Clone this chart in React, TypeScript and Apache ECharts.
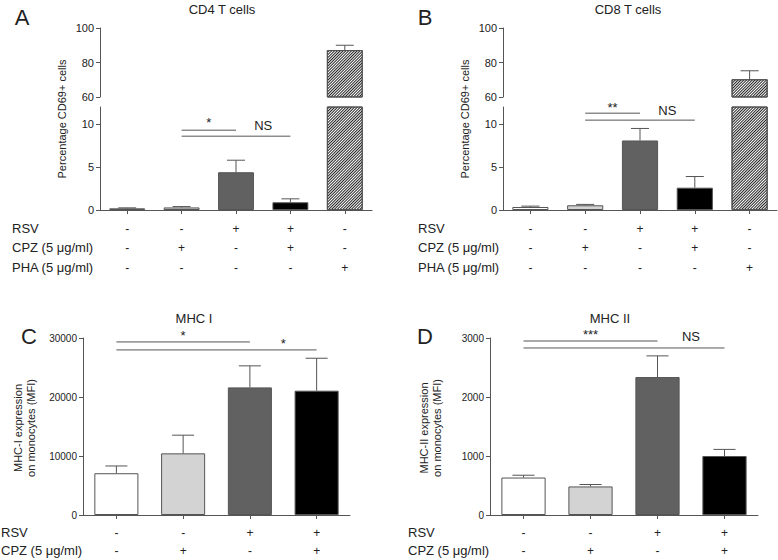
import React, { useEffect, useRef } from 'react';
import * as echarts from 'echarts';

// ---------- data ----------
const catsAB = ['1', '2', '3', '4', '5'];
const rsvAB = ['-', '-', '+', '+', '-'];
const cpzAB = ['-', '+', '-', '+', '-'];
const phaAB = ['-', '-', '-', '-', '+'];
const cd4Mean = [0.2, 0.3, 4.4, 0.9, 87.2];
const cd4Upper = [0.25, 0.4, 5.8, 1.3, 90];
const cd8Mean = [0.35, 0.55, 8.1, 2.6, 70.3];
const cd8Upper = [0.45, 0.65, 9.5, 3.9, 75.2];

const catsCD = ['1', '2', '3', '4'];
const rsvCD = ['-', '-', '+', '+'];
const cpzCD = ['-', '+', '-', '+'];
const mhc1Mean = [7080, 10450, 21630, 21070];
const mhc1Upper = [8310, 13530, 25280, 26570];
const mhc2Mean = [635, 484, 2338, 1000];
const mhc2Upper = [674, 517, 2697, 1112];

const rowNamesAB = ['RSV', 'CPZ (5 \u03bcg/ml)', 'PHA (5 \u03bcg/ml)'];
const rowNamesCD = ['RSV', 'CPZ (5 \u03bcg/ml)'];

// significance annotations: line from/to category, at level; label between textFrom/textTo
const sigA = [
  { from: 1, to: 2, level: 9.3, text: '*', textFrom: 1, textTo: 2, textLevel: 10.2 },
  { from: 1, to: 3, level: 8.6, text: 'NS', textFrom: 2, textTo: 3, textLevel: 9.8 },
];
const sigB = [
  { from: 1, to: 2, level: 11.28, text: '**', textFrom: 1, textTo: 2, textLevel: 11.9 },
  { from: 1, to: 3, level: 10.47, text: 'NS', textFrom: 2, textTo: 3, textLevel: 11.6 },
];
const sigC = [
  { from: 0, to: 2, level: 29330, text: '*', textFrom: 0, textTo: 2, textLevel: 30340 },
  { from: 0, to: 3, level: 27980, text: '*', textFrom: 2, textTo: 3, textLevel: 28990 },
];
const sigD = [
  { from: 0, to: 2, level: 2949, text: '***', textFrom: 0, textTo: 2, textLevel: 3051 },
  { from: 0, to: 3, level: 2831, text: 'NS', textFrom: 2, textTo: 3, textLevel: 3017 },
];

// ---------- styles ----------
const FONT = '"Liberation Sans", Arial, Helvetica, sans-serif';
const AXIS = '#555';
const TXT = '#222';
const hatchDecal = {
  symbol: 'rect',
  symbolSize: 1,
  dashArrayX: [1, 0],
  dashArrayY: [1, 1],
  rotation: -Math.PI / 4,
  color: '#222',
  backgroundColor: '#ffffff',
};
const fills = ['#ffffff', '#d3d3d3', '#616161', '#000000', 'hatch'];

function barItems(values: number[], keep: (v: number) => boolean) {
  return values.map((v, i) => {
    if (!keep(v)) return '-';
    const f = fills[i];
    const style: any = { borderColor: AXIS, borderWidth: 1, color: f === 'hatch' ? '#ffffff' : f };
    if (f === 'hatch') style.decal = hatchDecal;
    return { value: v, itemStyle: style };
  });
}

function errItems(mean: number[], upper: number[], keep: (m: number, u: number) => boolean) {
  const out: number[][] = [];
  mean.forEach((m, i) => {
    if (keep(m, upper[i])) out.push([i, m, upper[i]]);
  });
  return out;
}

const errRender = (params: any, api: any) => {
  const x = api.value(0);
  const p0 = api.coord([x, api.value(1)]);
  const p1 = api.coord([x, api.value(2)]);
  const half = api.size([1, 0])[0] * 0.33 / 2;
  const ls = { stroke: AXIS, lineWidth: 1 };
  return {
    type: 'group',
    children: [
      { type: 'line', shape: { x1: p0[0], y1: p0[1], x2: p1[0], y2: p1[1] }, style: ls },
      { type: 'line', shape: { x1: p1[0] - half, y1: p1[1], x2: p1[0] + half, y2: p1[1] }, style: ls },
    ],
  };
};

function yAxisCfg(gridIndex: number, min: number, max: number, interval: number, fontSize: number, hideMax = false) {
  return {
    type: 'value',
    gridIndex,
    min,
    max,
    interval,
    axisLine: { show: true, lineStyle: { color: AXIS, width: 1 } },
    axisTick: { show: true, length: 4, lineStyle: { color: AXIS } },
    splitLine: { show: false },
    axisLabel: {
      fontFamily: FONT,
      fontSize,
      color: TXT,
      margin: 6,
      showMaxLabel: !hideMax,
      formatter: (v: number) => (hideMax && v === max ? '' : String(v)),
    },
  };
}

function xAxisCfg(gridIndex: number, cats: string[], rows: string[][], show: boolean, lineHeight: number) {
  return {
    type: 'category',
    gridIndex,
    data: cats,
    show,
    axisLine: { show: true, onZero: false, lineStyle: { color: AXIS, width: 1 } },
    axisTick: { show: true, alignWithLabel: true, length: 4, lineStyle: { color: AXIS } },
    axisLabel: {
      interval: 0,
      fontFamily: FONT,
      fontSize: 12,
      color: TXT,
      lineHeight,
      margin: 9,
      formatter: (_v: string, i: number) => rows.map((r) => r[i]).join('\n'),
    },
  };
}

export default function App() {
  const ref = useRef<HTMLDivElement>(null);
  useEffect(() => {
    const chart = echarts.init(ref.current!, null, { renderer: 'svg' });

    const grids = [
      { left: 100, top: 28, width: 272, height: 69 },
      { left: 100, top: 107, width: 272, height: 103 },
      { left: 503, top: 28, width: 274, height: 69 },
      { left: 503, top: 107, width: 274, height: 103 },
      { left: 83, top: 338, width: 267, height: 178 },
      { left: 490, top: 338, width: 268, height: 178 },
    ];

    const rowsAB = [rsvAB, cpzAB, phaAB];
    const rowsCD = [rsvCD, cpzCD];

    const xAxis = [
      xAxisCfg(0, catsAB, rowsAB, false, 19.5),
      xAxisCfg(1, catsAB, rowsAB, true, 19.5),
      xAxisCfg(2, catsAB, rowsAB, false, 19.5),
      xAxisCfg(3, catsAB, rowsAB, true, 19.5),
      xAxisCfg(4, catsCD, rowsCD, true, 18),
      xAxisCfg(5, catsCD, rowsCD, true, 18),
    ];
    const yAxis = [
      yAxisCfg(0, 60, 100, 20, 11),
      yAxisCfg(1, 0, 12, 5, 11, true),
      yAxisCfg(2, 60, 100, 20, 11),
      yAxisCfg(3, 0, 12, 5, 11, true),
      yAxisCfg(4, 0, 30000, 10000, 10),
      yAxisCfg(5, 0, 3000, 1000, 10),
    ];

    const panels = [
      { g: 0, mean: cd4Mean, upper: cd4Upper, min: 60, max: 100 },
      { g: 1, mean: cd4Mean, upper: cd4Upper, min: 0, max: 12 },
      { g: 2, mean: cd8Mean, upper: cd8Upper, min: 60, max: 100 },
      { g: 3, mean: cd8Mean, upper: cd8Upper, min: 0, max: 12 },
      { g: 4, mean: mhc1Mean, upper: mhc1Upper, min: 0, max: 30000 },
      { g: 5, mean: mhc2Mean, upper: mhc2Upper, min: 0, max: 3000 },
    ];
    const series: any[] = [];
    panels.forEach((p) => {
      series.push({
        type: 'bar',
        xAxisIndex: p.g,
        yAxisIndex: p.g,
        barWidth: '66%',
        clip: true,
        data: barItems(p.mean, (v) => v > p.min),
        z: 2,
      });
      series.push({
        type: 'custom',
        xAxisIndex: p.g,
        yAxisIndex: p.g,
        renderItem: errRender,
        encode: { x: 0, y: [1, 2] },
        data: errItems(p.mean, p.upper, (m, u) => m >= p.min && u <= p.max),
        z: 3,
      });
    });

    const txt = (text: string, x: number, y: number, fontSize: number, extra: any = {}) => ({
      type: 'text',
      x,
      y,
      rotation: extra.rotation || 0,
      style: {
        text,
        fontFamily: FONT,
        fontSize,
        fill: TXT,
        align: extra.align || 'center',
        verticalAlign: 'middle',
        lineHeight: extra.lineHeight,
      },
      z: 10,
    });

    const staticGraphic: any[] = [
      txt('A', 22, 17, 22),
      txt('B', 425, 17, 22),
      txt('C', 29, 336, 22),
      txt('D', 425, 336, 22),
      txt('CD4 T cells', 222, 9, 13),
      txt('CD8 T cells', 628, 9, 13),
      txt('MHC I', 194, 318, 13),
      txt('MHC II', 610, 318, 13),
      txt('Percentage CD69+ cells', 62, 119, 11, { rotation: Math.PI / 2 }),
      txt('Percentage CD69+ cells', 465, 119, 11, { rotation: Math.PI / 2 }),
      txt('MHC-I expression\non monocytes (MFI)', 24, 428, 11, { rotation: Math.PI / 2, lineHeight: 13 }),
      txt('MHC-II expression\non monocytes (MFI)', 430, 428, 11, { rotation: Math.PI / 2, lineHeight: 13 }),
    ];
    rowNamesAB.forEach((n, i) => {
      staticGraphic.push(txt(n, 12, 228 + i * 19.5, 13, { align: 'left' }));
      staticGraphic.push(txt(n, 418, 228 + i * 19.5, 13, { align: 'left' }));
    });
    rowNamesCD.forEach((n, i) => {
      staticGraphic.push(txt(n, 1, 532 + i * 18, 13, { align: 'left' }));
      staticGraphic.push(txt(n, 408, 532 + i * 18, 13, { align: 'left' }));
    });

    chart.setOption({
      animation: false,
      backgroundColor: '#ffffff',
      grid: grids,
      xAxis,
      yAxis,
      series,
      graphic: staticGraphic,
    });

    // significance annotations positioned through the axes
    const sigGraphic: any[] = [];
    const addSig = (sigs: any[], g: number) => {
      sigs.forEach((s) => {
        const finder = { xAxisIndex: g, yAxisIndex: g };
        const a = chart.convertToPixel(finder, [s.from, s.level]) as number[];
        const b = chart.convertToPixel(finder, [s.to, s.level]) as number[];
        sigGraphic.push({
          type: 'line',
          shape: { x1: a[0], y1: a[1], x2: b[0], y2: b[1] },
          style: { stroke: AXIS, lineWidth: 1 },
          z: 10,
        });
        const t1 = chart.convertToPixel(finder, [s.textFrom, s.textLevel]) as number[];
        const t2 = chart.convertToPixel(finder, [s.textTo, s.textLevel]) as number[];
        sigGraphic.push(txt(s.text, (t1[0] + t2[0]) / 2, t1[1], 13));
      });
    };
    addSig(sigA, 1);
    addSig(sigB, 3);
    addSig(sigC, 4);
    addSig(sigD, 5);

    chart.setOption({ graphic: staticGraphic.concat(sigGraphic) });

    return () => chart.dispose();
  }, []);

  return (
    <div
      ref={ref}
      style={{ position: 'fixed', left: 0, top: 0, width: 778, height: 560, background: '#fff' }}
    />
  );
}
